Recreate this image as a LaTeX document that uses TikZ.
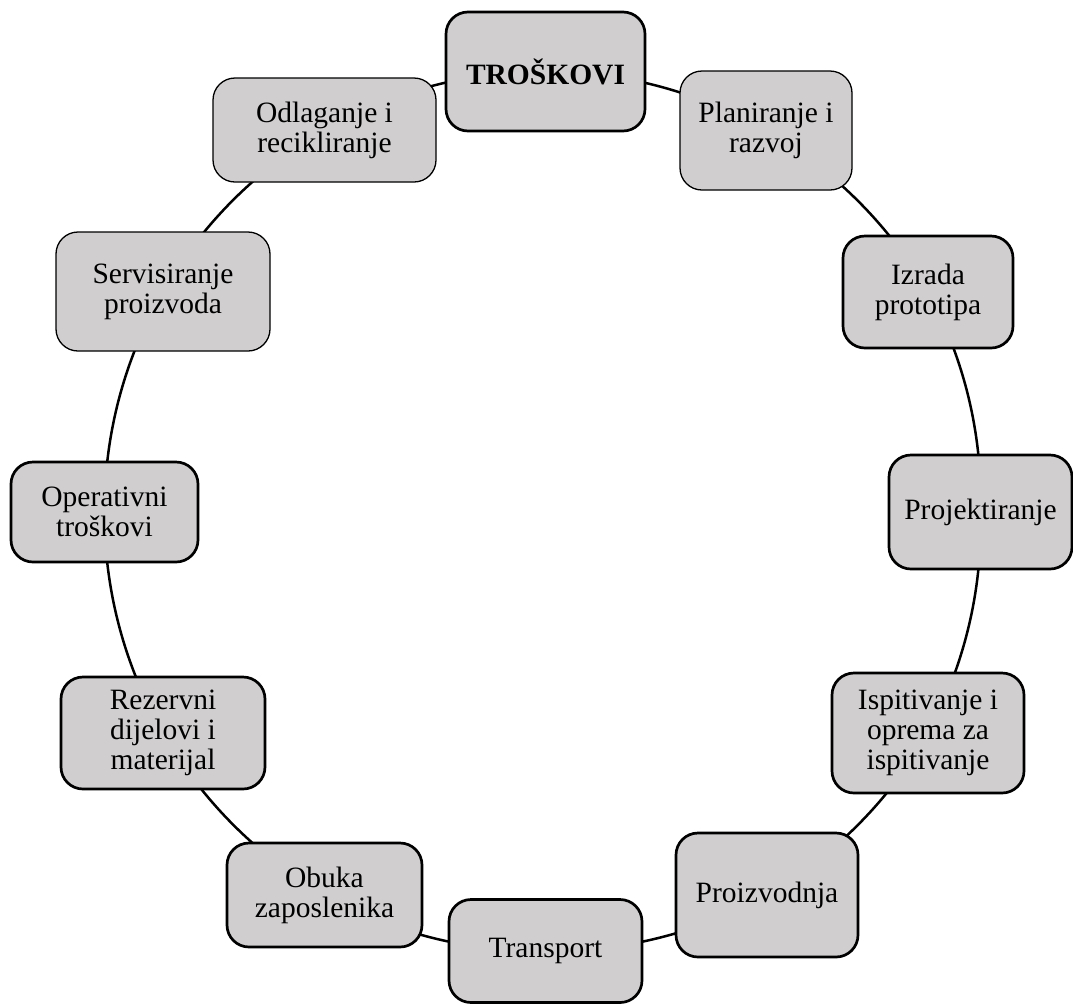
\documentclass[tikz,border=0pt]{standalone}
\usepackage{fontspec}
\setmainfont{Liberation Serif}
\usetikzlibrary{backgrounds}
\definecolor{boxgray}{RGB}{208,206,207}
\tikzset{
  cbox/.style={draw=black, fill=boxgray, rounded corners=22pt, align=center,
    inner sep=0pt, font=\fontsize{29.5}{29.8}\selectfont},
  thickb/.style={cbox, line width=2.7pt},
  thinb/.style={cbox, line width=1.3pt},
  link/.style={line width=2.5pt, bend left=15, looseness=0.87},
}
\begin{document}
\begin{tikzpicture}[x=1pt,y=-1pt]
\useasboundingbox (0,0) rectangle (1073,1005);
\node[thickb, minimum width=199pt, minimum height=119pt] (t) at (545.5,71.5) {\textbf{TROŠKOVI}};
\node[thinb, minimum width=172pt, minimum height=119pt] (p) at (766,130.5) {Planiranje i\\razvoj};
\node[thickb, minimum width=170pt, minimum height=112pt] (iz) at (928,292) {Izrada\\prototipa};
\node[thickb, minimum width=183pt, minimum height=114pt] (pr) at (980.5,512) {Projektiranje};
\node[thickb, minimum width=192pt, minimum height=120pt] (is) at (928,733) {Ispitivanje i\\oprema za\\ispitivanje};
\node[thickb, minimum width=182pt, minimum height=124pt] (pz) at (767,895) {Proizvodnja};
\node[thickb, minimum width=193pt, minimum height=103pt] (tr) at (545.5,951) {Transport};
\node[thickb, minimum width=195pt, minimum height=104pt] (ob) at (324.5,895) {Obuka\\zaposlenika};
\node[thickb, minimum width=204pt, minimum height=112pt] (rz) at (163,733) {Rezervni\\dijelovi i\\materijal};
\node[thickb, minimum width=187pt, minimum height=100pt] (op) at (104.5,512) {Operativni\\troškovi};
\node[thinb, minimum width=214pt, minimum height=119pt] (sv) at (163,291.5) {Servisiranje\\proizvoda};
\node[thinb, minimum width=223pt, minimum height=104pt] (od) at (324.5,130) {Odlaganje i\\recikliranje};
\begin{scope}[on background layer]
\draw[link] (t.center) to (p.center);
\draw[link] (p.center) to (iz.center);
\draw[link] (iz.center) to (pr.center);
\draw[link] (pr.center) to (is.center);
\draw[link] (is.center) to (pz.center);
\draw[link] (pz.center) to (tr.center);
\draw[link] (tr.center) to (ob.center);
\draw[link] (ob.center) to (rz.center);
\draw[link] (rz.center) to (op.center);
\draw[link] (op.center) to (sv.center);
\draw[link] (sv.center) to (od.center);
\draw[link] (od.center) to (t.center);
\end{scope}
\end{tikzpicture}
\end{document}
